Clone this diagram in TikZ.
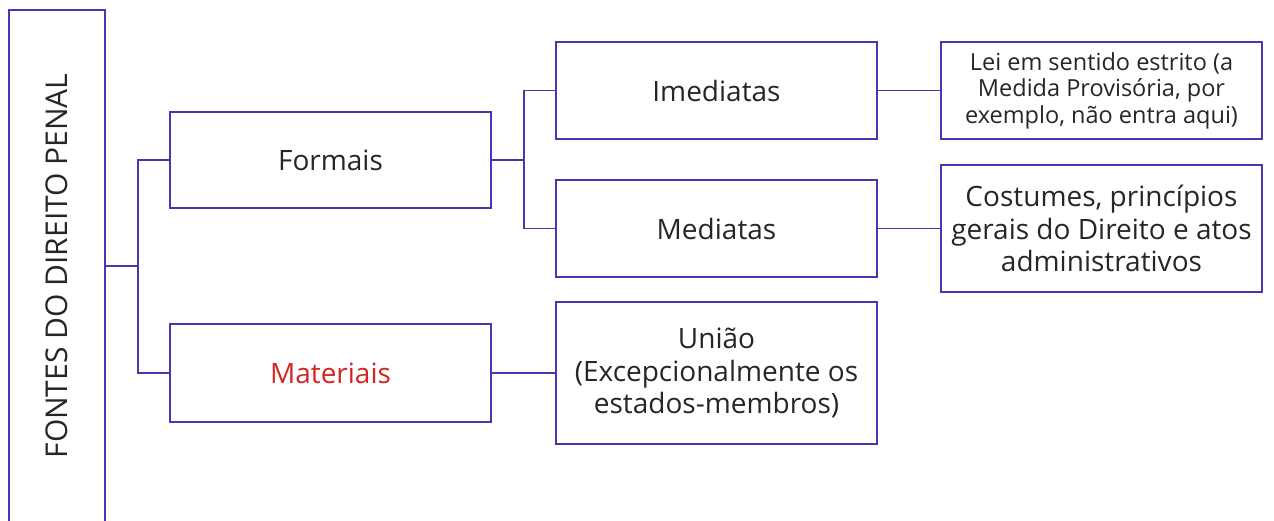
\documentclass[tikz,border=0pt]{standalone}
\usepackage{fontspec}
\setmainfont{Open Sans}
\usetikzlibrary{positioning}
\definecolor{fdpblue}{RGB}{72,56,176}
\definecolor{fdpred}{RGB}{214,36,36}

\begin{document}
\begin{tikzpicture}[x=1pt,y=-1pt,
  box/.style={draw=fdpblue, line width=1.9pt, minimum width=321pt, minimum height=97pt,
    align=center, inner sep=2pt, text=black!85, font=\fontsize{28}{32.5}\selectfont},
  link/.style={draw=fdpblue, line width=1.9pt}]
\useasboundingbox (0,0) rectangle (1274,520);
\clip (0,0) rectangle (1274,520);
% root, runs off the bottom edge
\node[box, minimum width=96pt, minimum height=512pt] (fontes) at (57,266) {};
\node[rotate=90, text=black!85, font=\fontsize{30}{32}\selectfont] at (fontes.center) {FONTES DO DIREITO PENAL};
% first level
\node[box, minimum height=96pt] (formais) at (330.5,160) {Formais};
\node[box, minimum height=98pt, text=fdpred] (materiais) at (330.5,373) {Materiais};
% second level
\node[box] (imediatas) at (716.5,90.5) {Imediatas};
\node[box] (mediatas) at (716.5,228.5) {Mediatas};
\node[box, minimum height=142pt] (uniao) at (716.5,373) {União\\(Excepcionalmente os\\estados-membros)};
% third level
\node[box, font=\fontsize{23.5}{26.5}\selectfont] (lei) at (1101.5,90.5) {Lei em sentido estrito (a\\Medida Provisória, por\\exemplo, não entra aqui)};
\node[box, minimum height=127pt] (costumes) at (1101.5,228.5) {Costumes, princípios\\gerais do Direito e atos\\administrativos};
% connectors
\draw[link] (fontes.east) -- ++(32,0) coordinate (j1) |- (formais.west);
\draw[link] (j1) |- (materiais.west);
\draw[link] (formais.east) -- ++(32,0) coordinate (j2) |- (imediatas.west);
\draw[link] (j2) |- (mediatas.west);
\draw[link] (materiais.east) -- (uniao.west);
\draw[link] (imediatas.east) -- (lei.west);
\draw[link] (mediatas.east) -- (costumes.west);
\end{tikzpicture}
\end{document}
